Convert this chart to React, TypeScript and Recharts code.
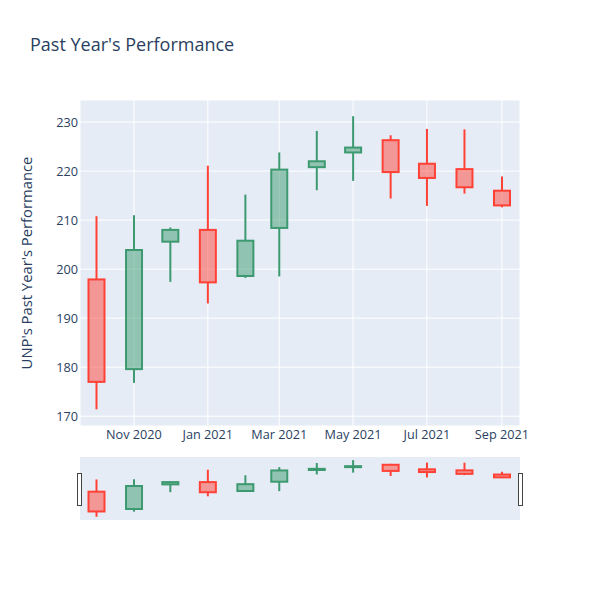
import React from 'react';
import { ComposedChart, Bar, XAxis, YAxis, CartesianGrid } from 'recharts';

// ---- data ----
const monthDates: [number, number][] = [
  [2020, 10], [2020, 11], [2020, 12], [2021, 1], [2021, 2], [2021, 3],
  [2021, 4], [2021, 5], [2021, 6], [2021, 7], [2021, 8], [2021, 9],
];
const opens = [197.9, 179.6, 205.6, 208.0, 198.6, 208.4, 220.8, 223.8, 226.3, 221.5, 220.4, 216.0];
const highs = [210.8, 211.0, 208.5, 221.1, 215.2, 223.8, 228.2, 231.2, 227.3, 228.6, 228.5, 218.9];
const lows = [171.4, 176.8, 197.4, 193.0, 198.2, 198.5, 216.1, 218.0, 214.4, 212.9, 215.4, 212.6];
const closes = [177.0, 203.9, 208.0, 197.3, 205.8, 220.3, 222.0, 224.8, 219.8, 218.6, 216.7, 213.0];

const yTicks = [170, 180, 190, 200, 210, 220, 230];
const xTickDates: [number, number][] = [[2020, 11], [2021, 1], [2021, 3], [2021, 5], [2021, 7], [2021, 9]];
const xTickLabels = ['Nov 2020', 'Jan 2021', 'Mar 2021', 'May 2021', 'Jul 2021', 'Sep 2021'];

const title = "Past Year's Performance";
const yTitle = "UNP's Past Year's Performance";

// ---- derived ----
const ts = (y: number, m: number, d = 1, h = 0) => Date.UTC(y, m - 1, d, h);
const data = monthDates.map(([y, m], i) => ({
  t: ts(y, m),
  open: opens[i],
  high: highs[i],
  low: lows[i],
  close: closes[i],
}));
const xTicks = xTickDates.map(([y, m]) => ts(y, m));
const xDomain = [ts(2020, 9, 17, 10), ts(2021, 9, 15, 22)];
const yDomain = [168, 234.5];

const INC = '#3D9970';
const DEC = '#FF4136';
const INC_FILL = 'rgba(61,153,112,0.5)';
const DEC_FILL = 'rgba(255,65,54,0.5)';
const TEXT = '#2a3f5f';
const FONT = '"Open Sans", verdana, arial, sans-serif';

const Candle = (props: any) => {
  const { x, y, width, height, payload } = props;
  if (!payload || height == null) return <g />;
  const { open, close, high, low } = payload;
  const ratio = height / (high - low);
  const yOf = (v: number) => y + (high - v) * ratio;
  const cx = x + width / 2;
  const up = close >= open;
  const color = up ? INC : DEC;
  const fill = up ? INC_FILL : DEC_FILL;
  const top = yOf(Math.max(open, close));
  const bot = yOf(Math.min(open, close));
  return (
    <g>
      <line x1={cx} x2={cx} y1={y} y2={top} stroke={color} strokeWidth={2} />
      <line x1={cx} x2={cx} y1={bot} y2={y + height} stroke={color} strokeWidth={2} />
      <rect x={x} y={top} width={width} height={Math.max(bot - top, 0.5)} fill={fill} stroke={color} strokeWidth={2} />
    </g>
  );
};

const fmtX = (v: number) => {
  const i = xTicks.indexOf(v);
  return i >= 0 ? xTickLabels[i] : '';
};

export default function App() {
  return (
    <div style={{ position: 'absolute', left: 0, top: 0, width: 600, height: 600, background: '#fff', fontFamily: FONT }}>
      <ComposedChart
        width={600}
        height={460}
        data={data}
        margin={{ top: 100, right: 80, bottom: 4, left: 30 }}
      >
        <CartesianGrid fill="#E5ECF6" stroke="#fff" strokeWidth={1} />
        <XAxis
          dataKey="t"
          type="number"
          domain={xDomain}
          ticks={xTicks}
          tickFormatter={fmtX}
          allowDataOverflow
          axisLine={false}
          tickLine={false}
          tickSize={0}
          tickMargin={4}
          height={30}
          tick={{ fill: TEXT, fontSize: 12.7, fontFamily: FONT }}
        />
        <YAxis
          type="number"
          domain={yDomain}
          ticks={yTicks}
          allowDataOverflow
          axisLine={false}
          tickLine={false}
          tickSize={0}
          tickMargin={2}
          width={50}
          tick={{ fill: TEXT, fontSize: 12.7, fontFamily: FONT }}
        />
        <Bar dataKey={(d: any) => [d.low, d.high]} barSize={16} shape={Candle} isAnimationActive={false} />
      </ComposedChart>

      <div style={{ position: 'absolute', left: 80, top: 457, width: 440, height: 63, background: '#E5ECF6' }}>
        <ComposedChart width={440} height={63} data={data} margin={{ top: 0, right: 0, bottom: 0, left: 0 }}>
          <XAxis dataKey="t" type="number" domain={xDomain} allowDataOverflow hide />
          <YAxis type="number" domain={yDomain} allowDataOverflow hide />
          <Bar dataKey={(d: any) => [d.low, d.high]} barSize={16} shape={Candle} isAnimationActive={false} />
        </ComposedChart>
      </div>

      <svg width={600} height={600} style={{ position: 'absolute', left: 0, top: 0, pointerEvents: 'none' }}>
        <text x={30} y={51} fill={TEXT} fontSize={18} fontFamily={FONT}>{title}</text>
        <text
          x={0}
          y={0}
          transform="translate(32,263) rotate(-90)"
          textAnchor="middle"
          fill={TEXT}
          fontSize={14.8}
          fontFamily={FONT}
        >
          {yTitle}
        </text>
        <rect x={77.5} y={473.5} width={4} height={32} fill="#fff" stroke="#444" strokeWidth={1} />
        <rect x={518.5} y={473.5} width={4} height={32} fill="#fff" stroke="#444" strokeWidth={1} />
      </svg>
    </div>
  );
}
